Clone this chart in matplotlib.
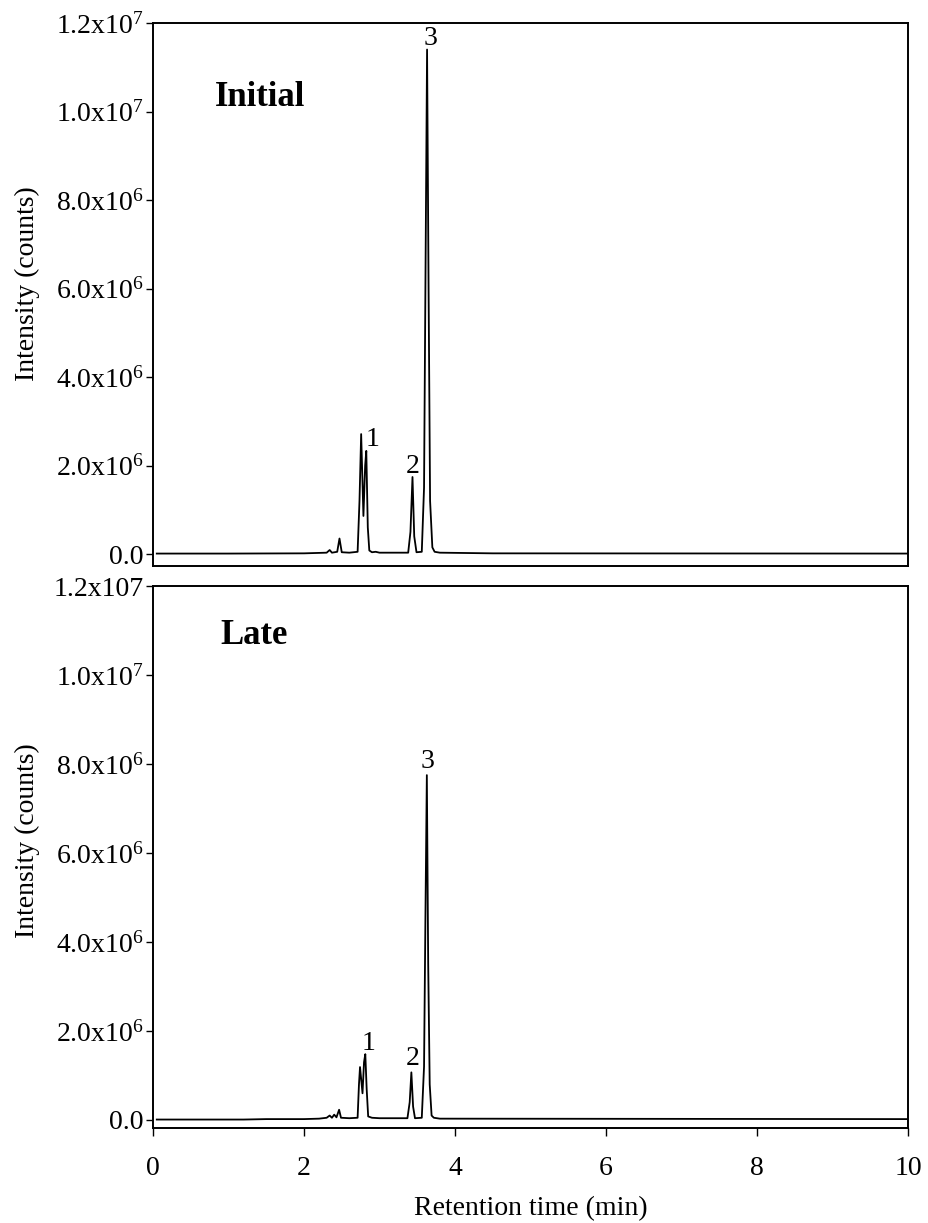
import matplotlib
matplotlib.use("Agg")
import matplotlib.pyplot as plt
from matplotlib.ticker import FixedLocator, FixedFormatter, NullLocator

plt.rcParams['font.family'] = ['Liberation Serif', 'DejaVu Serif']
plt.rcParams['mathtext.fontset'] = 'custom'
plt.rcParams['mathtext.rm'] = 'Liberation Serif'
plt.rcParams['mathtext.it'] = 'Liberation Serif:italic'

# ---- data ----
time_initial = [0.05, 1.0, 2.0, 2.30, 2.34, 2.37, 2.44, 2.47, 2.50, 2.60, 2.71, 2.735, 2.757,
                2.787, 2.81, 2.825, 2.845, 2.865, 2.90, 2.95, 3.00, 3.38, 3.41, 3.437, 3.46,
                3.49, 3.56, 3.59, 3.61, 3.63, 3.65, 3.67, 3.70, 3.73, 3.80, 4.5, 10.0]
intensity_initial = [0.01e6, 0.01e6, 0.015e6, 0.03e6, 0.09e6, 0.03e6, 0.05e6, 0.35e6, 0.04e6,
                     0.03e6, 0.05e6, 1.2e6, 2.71e6, 0.86e6, 2.0e6, 2.33e6, 0.6e6, 0.08e6,
                     0.04e6, 0.05e6, 0.03e6, 0.03e6, 0.5e6, 1.74e6, 0.4e6, 0.04e6, 0.05e6,
                     1.5e6, 6.5e6, 11.4e6, 6.0e6, 1.2e6, 0.15e6, 0.05e6, 0.03e6, 0.015e6, 0.01e6]

time_late = [0.05, 1.2, 1.5, 2.0, 2.2, 2.30, 2.34, 2.37, 2.40, 2.43, 2.465, 2.49, 2.60, 2.71,
             2.728, 2.742, 2.775, 2.795, 2.812, 2.83, 2.85, 2.90, 3.00, 3.37, 3.40, 3.422,
             3.445, 3.47, 3.56, 3.59, 3.608, 3.627, 3.645, 3.665, 3.69, 3.72, 3.80, 10.0]
intensity_late = [0.01e6, 0.01e6, 0.02e6, 0.02e6, 0.03e6, 0.05e6, 0.10e6, 0.05e6, 0.12e6,
                  0.06e6, 0.23e6, 0.05e6, 0.04e6, 0.05e6, 0.8e6, 1.19e6, 0.6e6, 1.3e6,
                  1.48e6, 0.7e6, 0.08e6, 0.05e6, 0.04e6, 0.04e6, 0.4e6, 1.07e6, 0.3e6,
                  0.04e6, 0.05e6, 1.2e6, 4.5e6, 7.75e6, 3.5e6, 0.8e6, 0.1e6, 0.05e6, 0.03e6, 0.02e6]

peak_names = ["1", "2", "3"]
label_pos_initial = [(2.91, 2.58e6), (3.44, 1.98e6), (3.67, 11.65e6)]
label_pos_late = [(2.86, 1.73e6), (3.44, 1.38e6), (3.64, 8.05e6)]

ytick_values = [0, 2e6, 4e6, 6e6, 8e6, 1e7, 1.2e7]
ytick_labels_initial = ["0.0", r"2.0x10$^{6}$", r"4.0x10$^{6}$", r"6.0x10$^{6}$",
                        r"8.0x10$^{6}$", r"1.0x10$^{7}$", r"1.2x10$^{7}$"]
ytick_labels_late = ["0.0", r"2.0x10$^{6}$", r"4.0x10$^{6}$", r"6.0x10$^{6}$",
                     r"8.0x10$^{6}$", r"1.0x10$^{7}$", "1.2x107"]
xtick_values = [0, 2, 4, 6, 8, 10]
xtick_labels = ["0", "2", "4", "6", "8", "10"]

panel_titles = ["Initial", "Late"]

# ---- figure ----
W, H = 929, 1223
fig = plt.figure(figsize=(W / 100, H / 100), dpi=100)
ax1 = fig.add_axes([153 / W, 1 - 566 / H, 755 / W, 543 / H])
ax2 = fig.add_axes([153 / W, 1 - 1128 / H, 755 / W, 542 / H])

fs = 20
for ax, t, y, labs, lpos, title, ybot, tpos, ylc in [
        (ax1, time_initial, intensity_initial, ytick_labels_initial, label_pos_initial,
         panel_titles[0], -2.71e5, (0.082, 0.862), 0.52),
        (ax2, time_late, intensity_late, ytick_labels_late, label_pos_late,
         panel_titles[1], -1.8e5, (0.089, 0.908), 0.53)]:
    ax.plot(t, y, color='black', lw=1.3, solid_joinstyle='round')
    ax.set_xlim(0, 10)
    ax.set_ylim(ybot, 1.2e7)
    ax.yaxis.set_major_locator(FixedLocator(ytick_values))
    ax.yaxis.set_major_formatter(FixedFormatter(labs))
    ax.tick_params(axis='y', direction='out', length=5, width=1.0, pad=2, labelsize=fs)
    for s in ax.spines.values():
        s.set_linewidth(1.4)
    for name, (px, py) in zip(peak_names, lpos):
        ax.text(px, py, name, fontsize=fs, ha='center', va='center')
    ax.text(tpos[0], tpos[1], title, transform=ax.transAxes, fontsize=25,
            fontweight='bold', ha='left', va='center')
    ax.set_ylabel("Intensity (counts)", fontsize=fs)
    ax.yaxis.set_label_coords(-0.15, ylc)

ax1.xaxis.set_major_locator(NullLocator())
ax2.xaxis.set_major_locator(FixedLocator(xtick_values))
ax2.xaxis.set_major_formatter(FixedFormatter(xtick_labels))
ax2.tick_params(axis='x', direction='out', length=6, width=1.0, pad=14, labelsize=fs)
ax2.set_xlabel("Retention time (min)", fontsize=fs)
ax2.xaxis.set_label_coords(0.5, -0.125)

fig.savefig("out.png", dpi=100)
